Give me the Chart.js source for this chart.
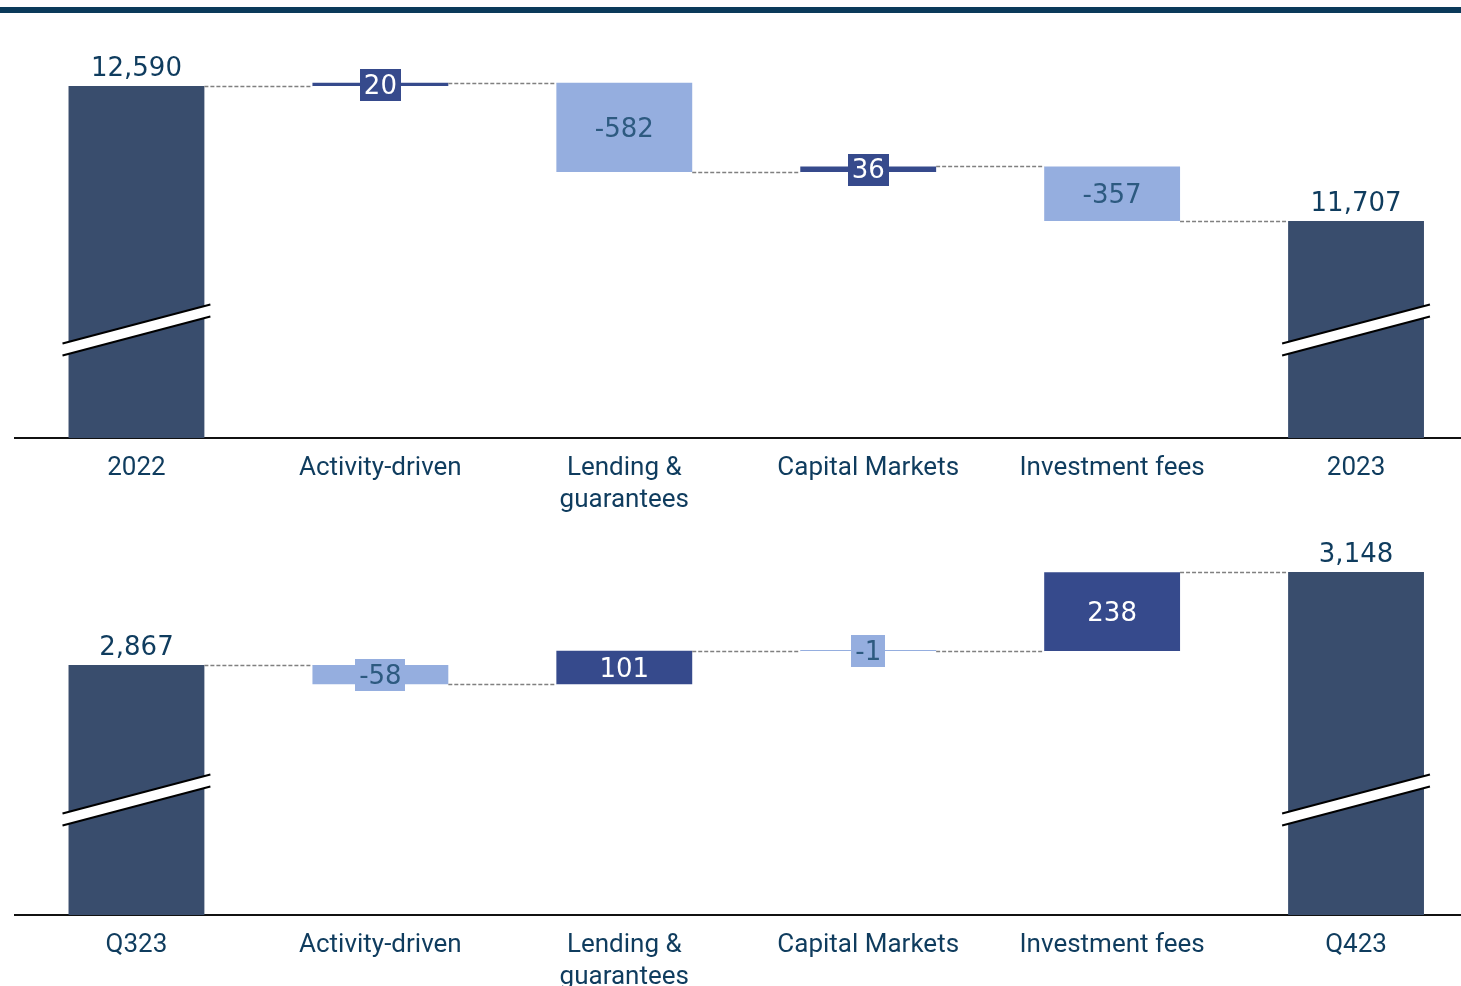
<!DOCTYPE html>
<html><head><meta charset="utf-8">
<script src="https://cdn.jsdelivr.net/npm/chart.js@4/dist/chart.umd.min.js"></script>
<style>
html,body{margin:0;padding:0;background:#fff;overflow:hidden;width:1461px;height:986px;}
#stripe{position:absolute;left:0;top:7px;width:1461px;height:6px;background:#0b3a5a;}
.wrap{position:absolute;left:0;width:1478px;}
</style></head><body>
<div id="stripe"></div>
<div class="wrap" style="top:30px;height:488px"><canvas id="c1"></canvas></div>
<div class="wrap" style="top:520px;height:475px"><canvas id="c2"></canvas></div>
<script>
// ---- data ----
const categoriesTop = ['2022', 'Activity-driven', ['Lending &', 'guarantees'], 'Capital Markets', 'Investment fees', '2023'];
const valuesTop = [12590, 20, -582, 36, -357, 11707];
const kindsTop = ['total', 'delta', 'delta', 'delta', 'delta', 'total'];
const labelsTop = ['12,590', '20', '-582', '36', '-357', '11,707'];

const categoriesBottom = ['Q323', 'Activity-driven', ['Lending &', 'guarantees'], 'Capital Markets', 'Investment fees', 'Q423'];
const valuesBottom = [2867, -58, 101, -1, 238, 3148];
const kindsBottom = ['total', 'delta', 'delta', 'delta', 'delta', 'total'];
const labelsBottom = ['2,867', '-58', '101', '-1', '238', '3,148'];

// ---- styles ----
const C_TOTAL = '#394d6d', C_UP = '#364a8c', C_DOWN = '#95aedf';
const TXT = '#0f3c5e', TXT_DOWN = '#2d5a80';
const VALUE_FONT = '26px "DejaVu Sans", sans-serif';

function buildRanges(values, kinds, axisMin) {
  const ranges = [], ends = [];
  let cum = 0;
  values.forEach((v, i) => {
    if (kinds[i] === 'total') { cum = v; ranges.push([axisMin, v]); }
    else { ranges.push([cum, cum + v]); cum += v; }
    ends.push(cum);
  });
  return { ranges, ends };
}

const waterfallPlugin = {
  id: 'waterfall',
  afterDatasetsDraw(chart) {
    const o = chart.options.plugins.waterfall;
    const ctx = chart.ctx, ys = chart.scales.y;
    const bars = chart.getDatasetMeta(0).data;
    ctx.save();
    // connectors
    ctx.strokeStyle = '#808080'; ctx.lineWidth = 1.5; ctx.setLineDash([4, 2]);
    for (let i = 0; i < bars.length - 1; i++) {
      const y = Math.round(ys.getPixelForValue(o.ends[i])) + 0.5;
      ctx.beginPath();
      ctx.moveTo(bars[i].x + bars[i].width / 2, y);
      ctx.lineTo(bars[i + 1].x - bars[i + 1].width / 2, y);
      ctx.stroke();
    }
    ctx.setLineDash([]);
    // break marks on totals
    const base = chart.chartArea.bottom;
    bars.forEach((b, i) => {
      if (o.kinds[i] !== 'total') return;
      const cx = b.x, cy = base - o.breakOffset;
      const hw = b.width / 2 + 6, slope = 39 / 148, gap = 12;
      const x1 = cx - hw, x2 = cx + hw;
      const yu1 = cy - gap / 2 + hw * slope, yu2 = cy - gap / 2 - hw * slope;
      ctx.fillStyle = '#fff';
      ctx.beginPath();
      ctx.moveTo(x1, yu1); ctx.lineTo(x2, yu2); ctx.lineTo(x2, yu2 + gap); ctx.lineTo(x1, yu1 + gap);
      ctx.closePath(); ctx.fill();
      ctx.strokeStyle = '#000'; ctx.lineWidth = 2;
      ctx.beginPath(); ctx.moveTo(x1, yu1); ctx.lineTo(x2, yu2); ctx.stroke();
      ctx.beginPath(); ctx.moveTo(x1, yu1 + gap); ctx.lineTo(x2, yu2 + gap); ctx.stroke();
    });
    // labels
    ctx.font = VALUE_FONT; ctx.textAlign = 'center';
    bars.forEach((b, i) => {
      const top = Math.min(b.y, b.base), bot = Math.max(b.y, b.base);
      const text = o.labels[i];
      if (o.kinds[i] === 'total') {
        ctx.fillStyle = TXT; ctx.textBaseline = 'alphabetic';
        ctx.fillText(text, b.x, top - 10);
        return;
      }
      const up = o.values[i] >= 0;
      const cy = (top + bot) / 2;
      if (bot - top < 34) {
        const w = ctx.measureText(text).width + 8;
        ctx.fillStyle = up ? C_UP : C_DOWN;
        ctx.fillRect(Math.round(b.x - w / 2), Math.round(cy - 15.5), Math.round(w), 32);
      }
      ctx.fillStyle = up ? '#ffffff' : TXT_DOWN; ctx.textBaseline = 'middle';
      ctx.fillText(text, b.x, cy + 2.5);
    });
    ctx.restore();
  }
};

function makeChart(id, cats, values, kinds, labels, yMin, yMax, breakOffset) {
  const { ranges, ends } = buildRanges(values, kinds, yMin);
  const colors = values.map((v, i) => kinds[i] === 'total' ? C_TOTAL : (v >= 0 ? C_UP : C_DOWN));
  return new Chart(document.getElementById(id), {
    type: 'bar',
    data: { labels: cats, datasets: [{ data: ranges, backgroundColor: colors, borderWidth: 0,
      barPercentage: 0.557, categoryPercentage: 1, minBarLength: 1 }] },
    options: {
      responsive: true, maintainAspectRatio: false, animation: false,
      layout: { padding: { left: 14.5, right: 0, top: 0, bottom: 0 } },
      plugins: { legend: { display: false }, tooltip: { enabled: false },
        waterfall: { ends, kinds, labels, values, breakOffset } },
      scales: {
        x: {
          grid: { display: false },
          border: { display: true, color: '#111', width: 2 },
          ticks: { color: TXT, padding: 7, font: { family: 'Roboto', size: 26, lineHeight: 1.23 }, maxRotation: 0, autoSkip: false },
          afterFit(s) { s.height = 80; }
        },
        y: { display: false, min: yMin, max: yMax }
      }
    },
    plugins: [waterfallPlugin]
  });
}

makeChart('c1', categoriesTop, valuesTop, kindsTop, labelsTop, 10290, 12955, 108);
makeChart('c2', categoriesBottom, valuesBottom, kindsBottom, labelsBottom, 2112, 3305, 115);
</script>
</body></html>
